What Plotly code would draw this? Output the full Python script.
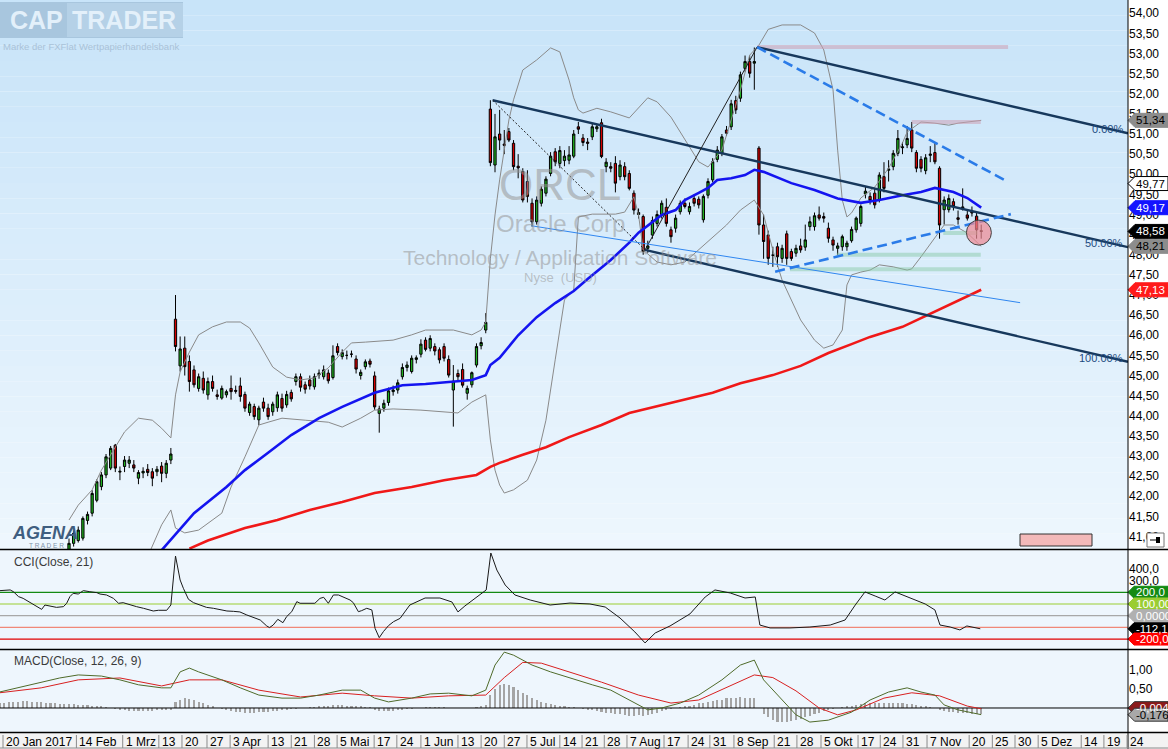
import plotly.graph_objects as go

# ---------------- data ----------------
OPEN = [40.68,40.83,40.90,40.96,41.40,41.58,41.90,42.24,42.53,42.70,
43.27,42.60,42.74,42.82,42.78,42.45,42.58,42.67,42.61,42.61,
42.75,42.57,42.90,46.40,45.24,45.68,45.35,45.14,44.68,44.93,
44.52,44.85,44.52,44.44,44.52,44.68,44.63,44.74,44.53,44.08,
44.23,43.90,44.34,44.19,44.10,44.20,44.43,44.27,44.58,44.85,
44.97,44.77,44.89,44.72,45.02,44.97,45.06,44.95,45.72,45.47,
45.50,45.53,45.41,45.00,45.22,45.36,44.99,44.06,44.19,44.33,
44.60,44.64,44.97,45.20,45.10,45.40,45.53,45.88,45.68,45.72,
45.64,45.72,45.40,44.64,45.05,45.15,44.56,44.77,45.26,45.74,
46.13,51.62,50.23,51.00,50.75,51.06,50.77,50.20,50.07,49.82,
49.28,48.82,49.28,49.53,50.02,50.56,50.27,50.34,50.35,50.45,
51.18,50.90,50.80,50.93,51.13,51.28,50.19,50.19,50.27,49.94,
50.19,50.02,49.53,49.00,48.95,48.16,48.49,48.78,48.99,49.18,
48.62,48.66,49.07,49.28,49.07,49.40,49.38,48.87,49.48,49.86,
50.37,50.52,51.10,51.18,51.83,51.89,52.63,52.80,52.76,50.65,
48.74,48.49,47.99,48.20,47.91,48.52,48.08,48.04,48.22,48.19,
48.70,48.70,48.99,48.95,48.66,48.37,48.16,48.20,48.20,48.35,
48.62,48.78,49.51,49.45,49.53,49.36,49.94,50.10,50.19,50.52,
50.66,50.73,51.10,50.54,50.37,50.09,50.47,50.54,50.15,49.12,
49.12,49.32,48.92,49.15,48.99,49.07,48.96,48.60]
HIGH = [40.95,41.15,41.25,41.50,41.62,42.15,42.42,42.60,43.05,43.25,
43.30,42.74,43.00,43.00,42.90,42.65,42.72,42.80,42.70,42.75,
42.85,42.90,43.20,47.00,45.97,45.97,45.50,45.25,45.05,45.10,
44.95,45.00,44.65,44.75,44.65,45.00,44.75,44.95,44.60,44.35,
44.30,44.25,44.45,44.30,44.35,44.60,44.55,44.62,44.65,45.05,
45.05,44.85,45.00,45.05,45.15,45.25,45.15,45.75,45.80,45.65,
45.62,45.62,45.50,45.15,45.40,45.42,45.10,44.25,44.40,44.70,
44.75,44.90,45.30,45.35,45.50,45.50,45.90,45.95,46.00,45.80,
45.70,45.80,45.50,45.26,45.15,45.30,44.75,45.10,45.80,45.95,
46.55,51.84,51.50,51.60,51.10,51.15,50.85,50.50,50.15,50.10,
49.40,49.45,49.70,49.95,50.55,50.65,50.70,50.60,50.70,51.10,
51.30,51.00,50.90,51.25,51.25,51.38,50.40,50.30,50.45,50.35,
50.30,50.10,49.60,49.15,49.00,48.35,48.95,49.10,49.35,49.40,
48.70,49.00,49.35,49.40,49.30,49.50,49.45,49.50,49.90,50.40,
50.70,51.00,51.20,51.85,51.95,52.55,52.95,52.95,53.15,50.70,
49.00,48.60,48.20,48.30,48.25,48.60,48.15,48.25,48.40,48.75,
48.95,49.05,49.20,49.05,48.80,48.45,48.30,48.50,48.35,48.70,
48.95,49.25,49.70,49.55,49.65,50.05,50.30,50.35,50.60,51.10,
50.80,51.20,51.30,50.60,50.45,50.50,50.70,50.80,50.20,49.45,
49.50,49.40,49.10,49.65,49.10,49.20,49.05,48.75]
LOW = [40.60,40.75,40.85,40.90,41.30,41.50,41.85,42.15,42.45,42.65,
42.60,42.40,42.60,42.70,42.60,42.30,42.45,42.50,42.25,42.50,
42.35,42.45,42.80,45.60,45.10,45.00,44.60,44.70,44.60,44.55,
44.40,44.60,44.40,44.40,44.45,44.40,44.55,44.35,44.10,44.00,
43.90,43.77,44.10,43.90,44.00,44.10,44.10,44.20,44.35,44.75,
44.60,44.55,44.65,44.65,44.92,44.90,44.80,44.90,45.50,45.40,
45.40,45.45,45.05,44.90,45.15,45.20,44.15,43.58,44.10,44.25,
44.50,44.55,44.90,45.10,45.05,45.30,45.45,45.60,45.60,45.50,
45.30,45.35,44.95,43.73,44.85,44.70,44.40,44.70,45.20,45.65,
46.05,50.20,50.05,50.60,50.50,50.80,50.10,49.90,49.30,49.30,
48.70,48.75,49.20,49.45,49.95,50.20,50.15,50.20,50.25,50.40,
51.00,50.70,50.60,50.85,51.05,50.40,50.05,50.05,49.55,49.85,
49.85,49.60,49.00,48.90,48.00,48.05,48.40,48.70,48.90,48.70,
48.30,48.55,49.00,49.15,49.00,49.20,49.15,48.80,49.40,49.80,
50.30,50.45,50.95,51.10,51.50,51.80,52.55,52.40,52.10,48.50,
47.90,47.75,47.70,47.70,47.80,47.75,47.85,47.95,48.05,48.10,
48.60,48.60,48.85,48.80,48.30,48.10,48.00,48.10,48.10,48.30,
48.55,48.70,49.40,49.25,49.15,49.30,49.55,49.82,50.10,50.45,
50.50,50.65,50.55,50.05,50.05,50.00,50.30,50.25,48.40,48.75,
49.05,49.10,48.75,49.10,48.85,48.95,48.40,48.40]
CLOSE = [40.83,41.08,41.16,41.45,41.55,42.07,42.36,42.53,42.98,43.19,
42.70,42.62,42.90,42.90,42.70,42.59,42.62,42.59,42.45,42.67,
42.57,42.82,43.05,45.72,45.66,45.22,44.85,44.77,44.97,44.64,
44.85,44.68,44.48,44.68,44.60,44.60,44.61,44.48,44.19,44.29,
43.98,44.19,44.19,43.98,44.29,44.52,44.19,44.53,44.42,44.97,
44.71,44.66,44.74,44.97,45.06,45.14,44.87,45.49,45.57,45.57,
45.50,45.53,45.16,45.08,45.34,45.28,44.22,44.17,44.31,44.62,
44.64,44.82,45.20,45.26,45.43,45.44,45.78,45.65,45.92,45.61,
45.39,45.43,45.01,44.86,44.97,44.76,44.68,45.07,45.72,45.82,
46.32,50.29,50.93,50.85,50.72,50.85,50.19,50.16,49.36,49.45,
48.82,49.36,49.63,49.88,50.45,50.31,50.59,50.45,50.48,51.00,
51.12,50.79,50.77,51.18,51.18,50.44,50.30,50.15,49.78,50.23,
49.94,49.65,49.11,49.05,48.08,48.22,48.85,49.00,49.28,48.78,
48.45,48.91,49.28,49.20,49.20,49.28,49.24,49.45,49.82,50.31,
50.60,50.93,51.02,51.75,51.60,52.47,52.80,52.51,52.80,48.74,
48.33,47.91,47.99,47.95,48.16,47.91,47.91,48.16,48.12,48.37,
48.82,48.97,48.91,48.91,48.41,48.24,48.22,48.45,48.29,48.63,
48.91,49.20,49.58,49.35,49.24,49.98,49.65,50.13,50.52,50.89,
50.68,50.89,50.65,50.15,50.15,50.41,50.50,50.31,48.74,49.36,
49.40,49.20,48.88,49.19,48.91,49.04,48.62,48.58]

BB_UP_IDX = [0,2,5,7,10,12,15,18,20,22,23,24,26,28,31,34,37,39,41,44,47,50,53,56,59,61,64,70,74,77,
             83,87,89,90,91,92,93,94,95,96,98,101,104,106,107,108,109,110,111,114,117,121,125,127,130,
             133,136,138,141,143,145,147,149,151,154,158,161,163,165,166,167,168,169,171,174,177,180,
             181,184,187,190,192,197]
BB_UP_VAL = [41.41,41.78,42.16,42.65,43.22,43.60,43.94,43.89,43.69,43.45,44.52,45.09,45.58,46.01,46.21,
             46.33,46.33,46.18,45.81,45.21,44.96,44.89,44.94,45.19,45.58,45.81,45.83,45.88,46.01,46.13,
             46.13,46.01,46.13,46.33,47.90,48.99,49.86,50.60,51.35,51.85,52.59,52.84,53.14,53.04,52.70,
             52.34,51.90,51.60,51.52,51.64,51.55,51.40,51.90,51.80,51.42,50.85,50.31,50.18,50.60,51.35,
             52.09,52.96,53.21,53.60,53.71,53.71,53.51,53.09,52.10,50.60,49.36,48.94,49.04,49.41,49.68,
             50.15,50.78,51.05,51.30,51.27,51.22,51.27,51.34]
BB_LO_IDX = [17,20,22,23,25,28,33,35,38,41,43,46,51,56,59,63,66,70,76,81,84,87,90,91,92,93,94,96,99,101,
             103,105,107,109,110,113,118,120,122,123,124,127,130,133,136,139,142,145,148,150,152,154,158,
             161,163,165,167,168,169,171,173,175,178,181,182,184,187,189,191,194,197]
BB_LO_VAL = [40.50,41.29,41.66,41.21,41.09,41.16,41.58,42.23,42.98,43.77,43.84,43.94,43.89,43.84,43.72,
             43.94,44.14,44.17,44.14,44.09,44.07,44.34,44.52,43.40,42.65,42.28,42.08,42.16,42.40,42.90,
             43.89,45.39,46.88,47.12,48.94,49.01,49.01,49.06,49.44,48.99,48.12,47.82,47.75,47.82,48.12,
             48.42,48.74,49.11,49.36,48.99,48.12,47.37,46.38,45.88,45.68,45.76,46.13,47.25,47.50,47.57,
             47.62,47.75,47.70,47.62,47.65,47.95,48.44,48.74,48.74,48.54,48.21]

MA50_IDX = [20,27,34,38,43,48,54,59,66,70,72,77,83,87,90,91,93,97,101,105,109,112,117,121,123,128,131,
            133,136,138,140,143,146,148,150,153,156,161,166,171,175,180,184,187,191,194,197]
MA50_VAL = [40.66,41.58,42.23,42.65,43.08,43.52,43.94,44.22,44.57,44.69,44.76,44.79,44.84,44.89,45.01,
            45.26,45.44,46.00,46.45,46.80,47.10,47.40,47.87,48.30,48.55,48.99,49.11,49.36,49.54,49.66,
            49.86,49.90,49.98,50.11,50.06,49.93,49.78,49.61,49.40,49.29,49.36,49.48,49.56,49.66,49.56,
            49.41,49.17]
MA200_IDX = [26,30,38,45,52,59,66,74,81,88,91,93,98,103,108,115,121,128,134,139,145,152,158,164,169,
             173,180,186,191,197]
MA200_VAL = [40.70,40.90,41.21,41.41,41.66,41.86,42.08,42.23,42.40,42.53,42.73,42.83,43.03,43.22,43.47,
             43.77,44.07,44.27,44.44,44.57,44.81,45.01,45.24,45.56,45.78,45.96,46.21,46.53,46.80,47.13]

CCI_IDX = [-14.9,-14.2,-12.7,-12.0,-10.9,-9.9,-8.4,-7.7,-6.3,-5.9,-5.2,-4.1,-2.7,-1.2,-0.5,0.2,0.9,2.0,
           3.1,4.5,6.0,6.7,8.1,9.6,10.7,11.7,13.2,14.6,16.1,16.8,18.2,19.3,21.1,22.0,23.0,24.0,24.7,25.8,
           26.9,28.3,29.7,31.2,32.6,34.1,35.5,36.9,38.4,39.8,41.3,42.7,43.3,44.1,45.1,46.2,47.0,48.1,49.2,
           49.9,51.3,53.1,54.2,55.0,56.0,57.1,58.2,59.3,60.7,61.4,62.5,63.2,64.3,65.4,66.1,67.0,67.9,69.0,
           70.1,71.5,73.6,76.9,80.1,82.7,84.0,85.5,87.7,90.1,91.1,92.4,94.2,96.3,99.6,103.9,108.2,112.5,
           115.8,119.0,122.2,124.4,126.6,129.8,134.1,137.4,139.5,142.8,146.0,148.2,149.2,151.4,155.7,160.0,
           164.4,167.6,169.8,171.9,174.1,176.2,178.4,180.6,182.7,184.9,187.0,188.1,190.3,192.4,193.9,195.7,
           196.8]
CCI_VAL = [214,214,220,205,163,148,111,91,63,54,91,83,71,77,106,163,191,185,214,205,197,185,177,148,106,
           111,91,77,63,57,40,46,46,91,510,305,234,140,111,91,71,63,49,40,37,32,6,-14,-37,-88,-102,-80,
           -31,-60,-8,34,120,106,106,106,148,157,106,177,177,157,134,111,34,43,63,49,-108,-188,-136,-85,
           -51,-23,91,151,151,117,32,83,151,220,536,390,262,177,134,91,108,100,74,-20,-139,-233,-148,-88,
           15,160,220,194,151,160,-80,-105,-105,-97,-80,-37,91,203,168,134,203,168,134,100,49,-80,-97,-122,
           -88,-105,-112.1]

MACD_IDX = [-15,-11,-6,-2,2,7,11,15,20,22,24,26,28,33,37,41,46,50,54,59,63,66,69,74,78,82,87,90,92,94,
            96,100,104,108,113,117,121,125,128,132,136,141,145,148,150,154,157,160,164,169,173,177,181,
            184,187,189,192,197]
MACD_VAL = [0.42,0.53,0.66,0.79,0.87,0.84,0.74,0.61,0.53,0.53,0.95,1.05,0.95,0.74,0.53,0.34,0.26,0.26,
            0.34,0.47,0.47,0.26,0.16,0.26,0.37,0.39,0.32,0.47,1.13,1.47,1.39,1.13,0.95,0.79,0.61,0.47,
            0.21,-0.05,0.0,0.13,0.34,0.74,1.13,1.26,0.74,0.21,-0.18,-0.37,-0.32,-0.11,0.21,0.42,0.53,
            0.42,0.34,0.08,-0.05,-0.176]
SIG_IDX = [-15,-6,2,11,20,26,33,41,50,59,66,74,82,90,94,98,102,108,115,123,130,136,142,148,152,157,162,
           166,170,176,182,188,194,197]
SIG_VAL = [0.40,0.53,0.74,0.79,0.58,0.74,0.74,0.47,0.29,0.39,0.32,0.26,0.32,0.34,0.80,1.20,1.18,0.95,
           0.68,0.34,0.13,0.21,0.53,0.87,0.80,0.45,0.00,-0.18,-0.05,0.26,0.40,0.32,0.05,-0.02]
HIST_START = -15
HIST_VAL = [0.12,0.13,0.15,0.16,0.17,0.18,0.18,0.17,
            0.16,0.15,0.14,0.13,0.12,0.11,0.10,0.10,
            0.10,0.09,0.08,0.07,0.06,0.05,0.04,0.02,0.00,-0.02,
            -0.04,-0.06,-0.07,-0.08,-0.08,-0.08,-0.07,-0.07,-0.06,-0.06,-0.05,-0.05,
            0.15,0.22,0.25,0.24,0.20,0.16,0.12,0.08,
            0.04,0.00,-0.03,-0.06,-0.08,-0.10,-0.11,-0.12,-0.12,-0.12,-0.11,-0.11,-0.10,-0.09,-0.08,
            -0.06,-0.05,-0.03,-0.02,0.00,0.01,0.02,0.03,0.04,0.05,0.06,0.07,0.07,0.07,0.06,0.06,0.05,
            0.04,0.03,0.02,
            -0.04,-0.07,-0.08,-0.08,-0.07,-0.06,-0.05,-0.03,-0.02,0.00,0.01,0.02,0.03,0.03,0.03,0.02,
            0.01,0.00,-0.01,-0.01,0.00,0.01,0.03,0.05,0.07,
            0.35,0.50,0.60,0.62,0.60,0.55,0.48,0.40,0.33,0.26,0.20,0.15,0.12,0.10,0.08,
            0.06,0.05,0.03,0.02,0.00,-0.02,-0.04,-0.06,-0.08,-0.10,-0.12,-0.13,-0.15,-0.17,-0.18,-0.20,
            -0.20,-0.19,-0.20,-0.18,
            -0.15,-0.12,-0.08,-0.05,-0.02,0.00,0.02,0.04,0.06,0.09,0.12,0.14,0.16,0.18,0.20,0.22,0.25,
            0.26,0.27,0.28,0.27,0.26,0.25,
            0.00,-0.15,-0.25,-0.32,-0.36,-0.38,-0.37,-0.35,-0.32,-0.28,-0.24,-0.20,-0.16,-0.12,-0.08,
            -0.05,-0.02,0.00,0.02,0.04,0.06,0.08,
            0.10,0.12,0.13,0.14,0.14,0.14,0.13,0.12,0.12,0.12,0.11,0.10,0.08,0.06,0.04,0.02,0.00,-0.05,
            -0.08,-0.10,
            -0.11,-0.12,-0.13,-0.14,-0.15,-0.16,-0.17]

# trend-line drawings (start / end points in index / price)
FIB_LEVELS = ["0.00%", "50.00%", "100.00%"]
FIB_X = [[148.6, 228.7], [91.5, 228.7], [124.4, 228.7]]
FIB_Y = [[53.16, 51.02], [51.84, 48.19], [48.12, 45.34]]
DOTTED_X, DOTTED_Y = [91.5, 124.4], [51.84, 48.12]
SOLID_X, SOLID_Y = [124.4, 148.6], [48.12, 53.16]
THIN_X, THIN_Y = [99.9, 205.4], [48.72, 46.81]
DASH_UP_X, DASH_UP_Y = [148.6, 202.5], [53.16, 49.83]
DASH_LO_X, DASH_LO_Y = [152.5, 203.4], [47.58, 49.01]
ZONE_X0 = [148.6, 182.0, 188.8, 165.8, 155.7]
ZONE_X1 = [202.8, 196.9, 196.2, 196.9, 196.9]
ZONE_Y = [53.16, 51.30, 48.54, 48.00, 47.64]
ZONE_KIND = ["red", "red", "green", "green", "green"]
MARK_X, MARK_Y = 196.5, 48.55

TICK_LABELS = ["20 Jan 2017", "14 Feb", "1 Mrz", "13", "20", "27", "3 Apr", "13", "21", "28", "5 Mai",
               "17", "24", "1 Jun", "13", "20", "27", "5 Jul", "14", "21", "28", "7 Aug", "17", "24",
               "31", "8 Sep", "21", "28", "5 Okt", "17", "24", "31", "7 Nov", "20", "25", "30", "5 Dez",
               "14", "19", "24"]
TICK_POS = [-14.25, 1.6, 11.6, 19.4, 24.4, 29.8, 34.8, 43.0, 48.0, 53.0, 57.9, 65.9, 70.8, 76.0, 84.0,
            89.0, 94.0, 98.9, 106.0, 110.8, 115.6, 120.5, 128.5, 133.7, 138.4, 143.6, 152.3, 157.2,
            162.4, 170.4, 175.2, 180.1, 185.3, 194.4, 199.4, 204.3, 209.3, 218.6, 223.5, 228.5]

MAIN_TAG_VAL = [51.34, 49.77, 49.17, 48.58, 48.21, 47.13]
MAIN_TAG_STYLE = [("#8c8c8c", "#000000", "#8c8c8c"), ("#ffffff", "#000000", "#000000"),
                  ("#1414ff", "#ffffff", "#1414ff"), ("#000000", "#ffffff", "#000000"),
                  ("#8c8c8c", "#000000", "#8c8c8c"), ("#ff1a1a", "#ffffff", "#ff1a1a")]
CCI_LEVELS = [200, 100, 0, -100, -200]
CCI_LEVEL_COLORS = ["#138a13", "#9acd32", "#a8a8a8", "#f08878", "#e00000"]
CCI_TAG_VAL = [200, 100, 0, -112.1, -200]
CCI_TAG_TEXT = ["200,0", "100,00", "0,0000", "-112,1", "-200,0"]
CCI_TAG_STYLE = [("#138a13", "#ffffff"), ("#9acd32", "#ffffff"), ("#b0b0b0", "#ffffff"),
                 ("#000000", "#ffffff"), ("#ff0000", "#ffffff")]
MACD_TAG_VAL = [-0.004, -0.176]
MACD_TAG_TEXT = ["-0,004", "-0,176"]
MACD_TAG_STYLE = [("#8b1a1a", "#ffffff"), ("#a8a8a8", "#000000")]

# ---------------- layout helpers ----------------
W, H = 1168, 749
XR = 1128 / W
FONT = "Liberation Sans"


def py(p):
    return 1 - p / H


X_RANGE = [-14.9, 228.7]
fig = go.Figure()

# background gradients
N = 36
for k in range(N):
    t = k / (N - 1)
    c = (int(200 + 38 * t), int(228 + 19 * t), int(249 + 5 * t))
    fig.add_shape(type="rect", xref="paper", yref="paper", x0=0, x1=XR,
                  y0=py(549 * (k + 1) / N), y1=py(549 * k / N), line_width=0,
                  fillcolor="rgb(%d,%d,%d)" % c, layer="below")
fig.add_shape(type="rect", xref="paper", yref="paper", x0=0, x1=XR, y0=py(733), y1=py(550),
              line_width=0, fillcolor="#eef6fd", layer="below")
fig.add_shape(type="rect", xref="paper", yref="paper", x0=XR, x1=1, y0=py(733), y1=1,
              line_width=0, fillcolor="#ffffff", layer="below")

# Bollinger / moving averages
fig.add_trace(go.Scatter(x=BB_UP_IDX, y=BB_UP_VAL, mode="lines", line=dict(color="#8a8a8a", width=1),
                         hoverinfo="skip"))
fig.add_trace(go.Scatter(x=BB_LO_IDX, y=BB_LO_VAL, mode="lines", line=dict(color="#8a8a8a", width=1),
                         hoverinfo="skip"))

# zones
for x0, x1, yv, kind in zip(ZONE_X0, ZONE_X1, ZONE_Y, ZONE_KIND):
    col = "rgba(205,160,180,0.55)" if kind == "red" else "rgba(130,200,160,0.45)"
    fig.add_trace(go.Scatter(x=[x0, x1], y=[yv, yv], mode="lines", line=dict(color=col, width=4),
                             hoverinfo="skip"))

fig.add_trace(go.Candlestick(x=list(range(len(CLOSE))), open=OPEN, high=HIGH, low=LOW, close=CLOSE,
                             increasing=dict(line=dict(color="#000000", width=1), fillcolor="#1faf1f"),
                             decreasing=dict(line=dict(color="#000000", width=1), fillcolor="#d40000"),
                             whiskerwidth=0, hoverinfo="skip"))

fig.add_trace(go.Scatter(x=MA200_IDX, y=MA200_VAL, mode="lines", line=dict(color="#f01818", width=2.6),
                         hoverinfo="skip"))
fig.add_trace(go.Scatter(x=MA50_IDX, y=MA50_VAL, mode="lines", line=dict(color="#1414f0", width=2.6),
                         hoverinfo="skip"))

# drawings
for fx, fy in zip(FIB_X, FIB_Y):
    fig.add_trace(go.Scatter(x=fx, y=fy, mode="lines", line=dict(color="#17385c", width=2.4),
                             hoverinfo="skip"))
fig.add_trace(go.Scatter(x=DOTTED_X, y=DOTTED_Y, mode="lines",
                         line=dict(color="#222", width=1, dash="2px,2px"), hoverinfo="skip"))
fig.add_trace(go.Scatter(x=SOLID_X, y=SOLID_Y, mode="lines", line=dict(color="#222", width=1),
                         hoverinfo="skip"))
fig.add_trace(go.Scatter(x=THIN_X, y=THIN_Y, mode="lines", line=dict(color="#2f86f0", width=1),
                         hoverinfo="skip"))
for dx, dy in ((DASH_UP_X, DASH_UP_Y), (DASH_LO_X, DASH_LO_Y)):
    fig.add_trace(go.Scatter(x=dx, y=dy, mode="lines", line=dict(color="#2a7be8", width=2.6, dash="10px,5px"),
                             hoverinfo="skip"))
for lab, fx, fy in zip(FIB_LEVELS, FIB_X, FIB_Y):
    fig.add_annotation(x=fx[1], y=fy[1], xref="x", yref="y", text=lab, showarrow=False, xanchor="right",
                       yanchor="middle", xshift=-3, yshift=4, font=dict(family=FONT, size=11, color="#1d4a80"))

fig.add_shape(type="circle", xref="x", yref="y", xsizemode="pixel", ysizemode="pixel",
              xanchor=MARK_X, yanchor=MARK_Y, x0=-12.5, x1=12.5, y0=-12.5, y1=12.5,
              fillcolor="rgba(240,135,145,0.7)", line=dict(color="#444", width=1))

# CCI panel
for lv, col in zip(CCI_LEVELS, CCI_LEVEL_COLORS):
    fig.add_trace(go.Scatter(x=X_RANGE, y=[lv, lv], mode="lines", line=dict(color=col, width=1.2),
                             xaxis="x2", yaxis="y2", hoverinfo="skip"))
fig.add_trace(go.Scatter(x=CCI_IDX, y=CCI_VAL, mode="lines", line=dict(color="#1a1a1a", width=1),
                         xaxis="x2", yaxis="y2", hoverinfo="skip"))

# MACD panel
fig.add_trace(go.Bar(x=[HIST_START + k for k in range(len(HIST_VAL))], y=HIST_VAL, width=0.45,
                     marker=dict(color="#a4a4a4", line_width=0), xaxis="x3", yaxis="y3", hoverinfo="skip"))
fig.add_trace(go.Scatter(x=X_RANGE, y=[0, 0], mode="lines", line=dict(color="#000", width=1),
                         xaxis="x3", yaxis="y3", hoverinfo="skip"))
fig.add_trace(go.Scatter(x=SIG_IDX, y=SIG_VAL, mode="lines", line=dict(color="#d82020", width=1),
                         xaxis="x3", yaxis="y3", hoverinfo="skip"))
fig.add_trace(go.Scatter(x=MACD_IDX, y=MACD_VAL, mode="lines", line=dict(color="#4f6b2a", width=1),
                         xaxis="x3", yaxis="y3", hoverinfo="skip"))


# price tags on the right
def tag(yref, val, text, bg, fg, border, half):
    fig.add_shape(type="path", xref="paper", yref=yref, xsizemode="pixel", ysizemode="pixel",
                  xanchor=XR, yanchor=val,
                  path="M 0,0 L %g,%g L 40,%g L 40,%g L %g,%g Z" % (half, half, half, -half, half, -half),
                  fillcolor=bg, line=dict(color=border, width=1), layer="above")
    fig.add_annotation(xref="paper", yref=yref, x=(1128 + 6) / W, y=val, xanchor="left", yanchor="middle",
                       text=text, showarrow=False, font=dict(family=FONT, size=11.5, color=fg))


for v, (bg, fg, bd) in zip(MAIN_TAG_VAL, MAIN_TAG_STYLE):
    tag("y", v, ("%.2f" % v).replace(".", ","), bg, fg, bd, 7)
for v, t, (bg, fg) in zip(CCI_TAG_VAL, CCI_TAG_TEXT, CCI_TAG_STYLE):
    tag("y2", v, t, bg, fg, bg, 6)
for v, t, (bg, fg) in zip(MACD_TAG_VAL, MACD_TAG_TEXT, MACD_TAG_STYLE):
    tag("y3", v, t, bg, fg, "#333", 6.5)

# panel frames
for yy in (549.5, 649.5, 732.5):
    fig.add_shape(type="line", xref="paper", yref="paper", x0=0, x1=1, y0=py(yy), y1=py(yy),
                  line=dict(color="#000", width=1.5))
fig.add_shape(type="line", xref="paper", yref="paper", x0=XR, x1=XR, y0=0, y1=1,
              line=dict(color="#000", width=1))

# x axis strip
fig.add_shape(type="rect", xref="paper", yref="paper", x0=0, x1=1, y0=0, y1=py(733),
              fillcolor="#f3f3f3", line_width=0, layer="below")
for lab, pos in zip(TICK_LABELS, TICK_POS):
    fig.add_shape(type="line", xref="x3", yref="paper", x0=pos, x1=pos, y0=py(748), y1=py(735),
                  line=dict(color="#8a8a8a", width=1))
    fig.add_annotation(xref="x3", yref="paper", x=pos, y=py(741.5), xanchor="left", yanchor="middle",
                       xshift=1, text=lab, showarrow=False, font=dict(family=FONT, size=12, color="#000"))
fig.add_shape(type="line", xref="paper", yref="paper", x0=0, x1=1, y0=py(748), y1=py(748),
              line=dict(color="#8a8a8a", width=1))

# watermark texts
for txt, yy, sz in (("ORCL", 184, 44), ("Oracle Corp", 223, 24),
                    ("Technology / Application Software", 257, 21), ("Nyse  (USD)", 277, 13)):
    fig.add_annotation(xref="paper", yref="paper", x=560 / W, y=py(yy), text=txt, showarrow=False,
                       xanchor="center", yanchor="middle",
                       font=dict(family=FONT, size=sz, color="rgba(150,150,150,0.55)"))

# panel titles
fig.add_annotation(xref="paper", yref="paper", x=12 / W, y=py(562), text="CCI(Close, 21)", showarrow=False,
                   xanchor="left", yanchor="middle", font=dict(family=FONT, size=12, color="#3a3a3a"))
fig.add_annotation(xref="paper", yref="paper", x=12 / W, y=py(661), text="MACD(Close, 12, 26, 9)",
                   showarrow=False, xanchor="left", yanchor="middle",
                   font=dict(family=FONT, size=12, color="#3a3a3a"))

# CAP TRADER logo
fig.add_shape(type="rect", xref="paper", yref="paper", x0=0, x1=183 / W, y0=py(38), y1=py(2),
              fillcolor="#a8c6de", line_width=0)
fig.add_shape(type="rect", xref="paper", yref="paper", x0=67 / W, x1=183 / W, y0=py(37), y1=py(3),
              fillcolor="#b5d1e7", line_width=0)
fig.add_annotation(xref="paper", yref="paper", x=36 / W, y=py(20), text="<b>CAP</b>", showarrow=False,
                   xanchor="center", yanchor="middle", font=dict(family=FONT, size=25, color="#e3f0fa"))
fig.add_annotation(xref="paper", yref="paper", x=124 / W, y=py(20), text="<b>TRADER</b>", showarrow=False,
                   xanchor="center", yanchor="middle", font=dict(family=FONT, size=25, color="#e3f0fa"))
fig.add_annotation(xref="paper", yref="paper", x=1 / W, y=py(47), text="Marke der FXFlat Wertpapierhandelsbank",
                   showarrow=False, xanchor="left", yanchor="middle",
                   font=dict(family=FONT, size=9.5, color="#a9c2d8"))
# AGENA logo
fig.add_annotation(xref="paper", yref="paper", x=10 / W, y=py(533), text="<b><i>AGENA</i></b>", showarrow=False,
                   xanchor="left", yanchor="middle", font=dict(family=FONT, size=18, color="#3f5e80"))
fig.add_annotation(xref="paper", yref="paper", x=27 / W, y=py(545), text="T R A D E R", showarrow=False,
                   xanchor="left", yanchor="middle", font=dict(family=FONT, size=6.5, color="#7f93a8"))

# small widgets bottom right
fig.add_shape(type="rect", xref="paper", yref="paper", x0=1020 / W, x1=1092 / W, y0=py(546), y1=py(534),
              fillcolor="#f3b9b9", line=dict(color="#333", width=1))
fig.add_shape(type="rect", xref="paper", yref="paper", x0=1147 / W, x1=1164 / W, y0=py(547), y1=py(533),
              fillcolor="#ffffff", line=dict(color="#777", width=1))
fig.add_shape(type="line", xref="paper", yref="paper", x0=1150 / W, x1=1157 / W, y0=py(540), y1=py(540),
              line=dict(color="#000", width=1))
fig.add_shape(type="rect", xref="paper", yref="paper", x0=1156 / W, x1=1160 / W, y0=py(543), y1=py(537),
              fillcolor="#000", line_width=0)

axis_common = dict(showgrid=False, zeroline=False, showline=False, ticks="", side="right",
                   tickfont=dict(family=FONT, size=12, color="#000"), automargin=False)
fig.update_layout(
    width=W, height=H, margin=dict(l=0, r=0, t=0, b=0), template="none",
    paper_bgcolor="#ffffff", plot_bgcolor="rgba(0,0,0,0)", showlegend=False, separators=",.",
    font=dict(family=FONT), bargap=0,
    xaxis=dict(domain=[0, XR], range=X_RANGE, visible=False, anchor="y", rangeslider=dict(visible=False)),
    xaxis2=dict(domain=[0, XR], range=X_RANGE, visible=False, anchor="y2", matches="x"),
    xaxis3=dict(domain=[0, XR], range=X_RANGE, visible=False, anchor="y3", matches="x"),
    yaxis=dict(domain=[py(549), 1], range=[40.69, 54.33], anchor="x", dtick=0.5, tick0=41,
               tickformat=".2f", **axis_common),
    yaxis2=dict(domain=[py(649), py(551)], range=[-285, 553], anchor="x2", tickvals=[300, 400],
                tickformat=".1f", **axis_common),
    yaxis3=dict(domain=[py(733), py(650)], range=[-0.658, 1.526], anchor="x3", tickvals=[0.5, 1.0],
                tickformat=".2f", **axis_common),
)

fig.write_html("out.html", config={"displayModeBar": False, "staticPlot": True},
               post_script="document.body.style.margin='0';document.body.style.overflow='hidden';")
